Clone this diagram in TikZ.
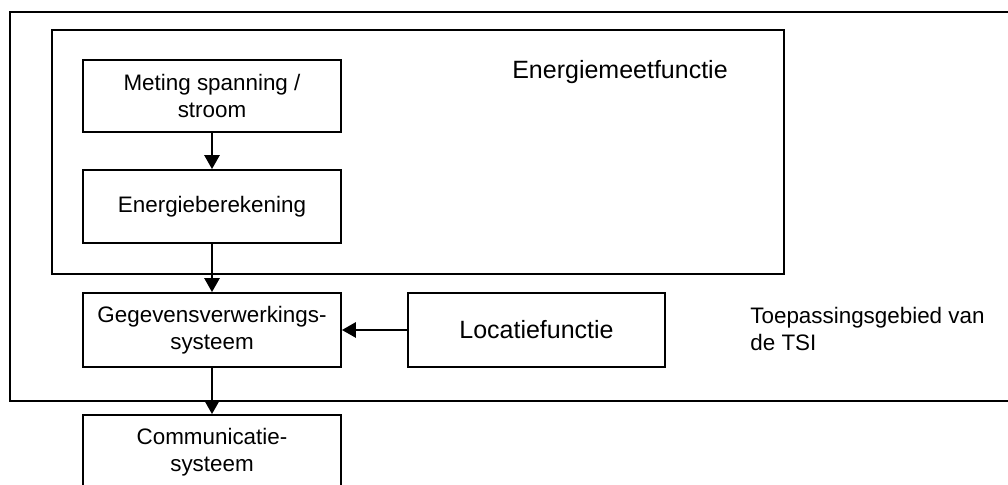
\documentclass[tikz,border=0pt]{standalone}
\usepackage{fontspec}
\setmainfont{Liberation Sans}
\usetikzlibrary{arrows.meta}

\tikzset{
  blok/.style={draw, line width=0.9pt, minimum width=129pt, minimum height=36pt,
    align=center, inner sep=2pt, font=\fontsize{11.2}{13.5}\selectfont},
  groottekst/.style={font=\fontsize{12.5}{15}\selectfont},
  pijl/.style={-{Triangle[width=7.5pt,length=7pt]}, line width=1.4pt},
  kader/.style={line width=0.9pt}
}

\begin{document}
\begin{tikzpicture}[x=0.5pt, y=-0.5pt]
    \useasboundingbox (0,0) rectangle (1008,485);

    % Kaders
    \draw[kader] (10,12) rectangle (1020,401);
    \draw[kader] (52,30) rectangle (784,274);

    % Blokken
    \node[blok] (meting) at (212,96) {Meting spanning /\\stroom};
    \node[blok, minimum height=36.5pt] (berekening) at (212,206.5) {Energieberekening};
    \node[blok, minimum height=37pt] (gegevens) at (212,330) {Gegevensverwerkings-\\systeem};
    \node[blok, groottekst, minimum width=128.5pt, minimum height=37pt] (locatie) at (536.5,330) {Locatiefunctie};
    \node[blok, minimum height=37pt] (communicatie) at (212,452) {Communicatie-\\systeem};

    % Labels
    \node[groottekst] (meetlabel) at (620,72) {Energiemeetfunctie};
    \node[anchor=west, align=left, inner sep=0pt, font=\fontsize{11.2}{13.5}\selectfont] (tsilabel) at (750,329) {Toepassingsgebied van\\de TSI};

    % Pijlen
    \draw[pijl] (meting) -- (berekening);
    \draw[pijl] (berekening) -- (gegevens);
    \draw[pijl] (gegevens) -- (communicatie);
    \draw[pijl] (locatie) -- (gegevens);
\end{tikzpicture}
\end{document}
